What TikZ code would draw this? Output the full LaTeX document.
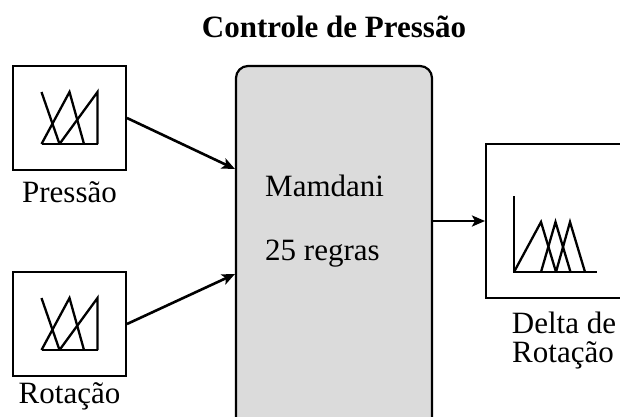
\documentclass[tikz,border=0pt]{standalone}
\usepackage{fontspec}
\setmainfont{Liberation Serif}
\usetikzlibrary{arrows,arrows.meta}

\tikzset{
 blk/.style={draw, line width=2pt, inner sep=0, minimum width=113pt, minimum height=104pt},
 lbl/.style={font=\fontsize{31}{31}\selectfont, inner sep=0},
 fin/.style={line width=2.3pt, line join=miter},
 seta/.style={line width=2.6pt, -{Stealth[length=13pt, width=11pt, inset=3pt]}}
}

\begin{document}
\begin{tikzpicture} [x=1pt, y=-1pt]
\useasboundingbox (0,0) rectangle (620,416);
\clip (0,0) rectangle (620,416);
\node[lbl, font=\bfseries\fontsize{31}{31}\selectfont, anchor=base] (title) at (334,37) {Controle de Press\~ao};
% entradas
\node[blk] (press) at (69.5,118) {};
\node[blk] (rot) at (69.5,324) {};
\node[lbl, anchor=base] (pressl) at (69.5,202) {Press\~ao};
\node[lbl, anchor=base] (rotl) at (69.5,403) {Rota\c{c}\~ao};
\foreach \b in {press, rot} {
 \begin{scope}[shift={(\b.center)}]
 \draw[fin] (-28,-26)--(-10,26);
 \draw[fin] (-28,26)--(0,-26)--(14.5,26);
 \draw[fin] (-10,26)--(28,-26)--(28,26);
 \draw[fin] (-28,26)--(28,26);
 \end{scope}
}
% bloco de inferencia
\node[draw, line width=2.2pt, rounded corners=12pt, fill=black!14, minimum width=196pt, minimum height=384pt, inner sep=0] (mamdani) at (334,258) {};
\node[lbl, anchor=base west] (mam) at (265,196) {Mamdani};
\node[lbl, anchor=base west] (reg) at (265,260) {25 regras};
% saida
\node[draw, line width=2pt, minimum width=164pt, minimum height=154pt, inner sep=0] (delta) at (568,221) {};
\draw[fin] (514,196)--(514,272)--(597,272);
\foreach \p in {0,1,2} {
 \draw[fin] ({514+27*min(\p,1)+15*max(\p-1,0)},272)--({541+14.5*\p},222)--({556+14.5*\p},272);
}
\node[lbl, anchor=base] (deltal) at (564,333) {Delta de};
\node[lbl, anchor=base] (deltal2) at (563,362) {Rota\c{c}\~ao};
% setas
\coordinate (in1) at (235,169);
\coordinate (in2) at (235,274);
\draw[seta] (press.east) -- (in1);
\draw[seta] (rot.east) -- (in2);
\draw[seta] (mamdani.east |- delta.west) -- (delta.west);
\end{tikzpicture}
\end{document}
